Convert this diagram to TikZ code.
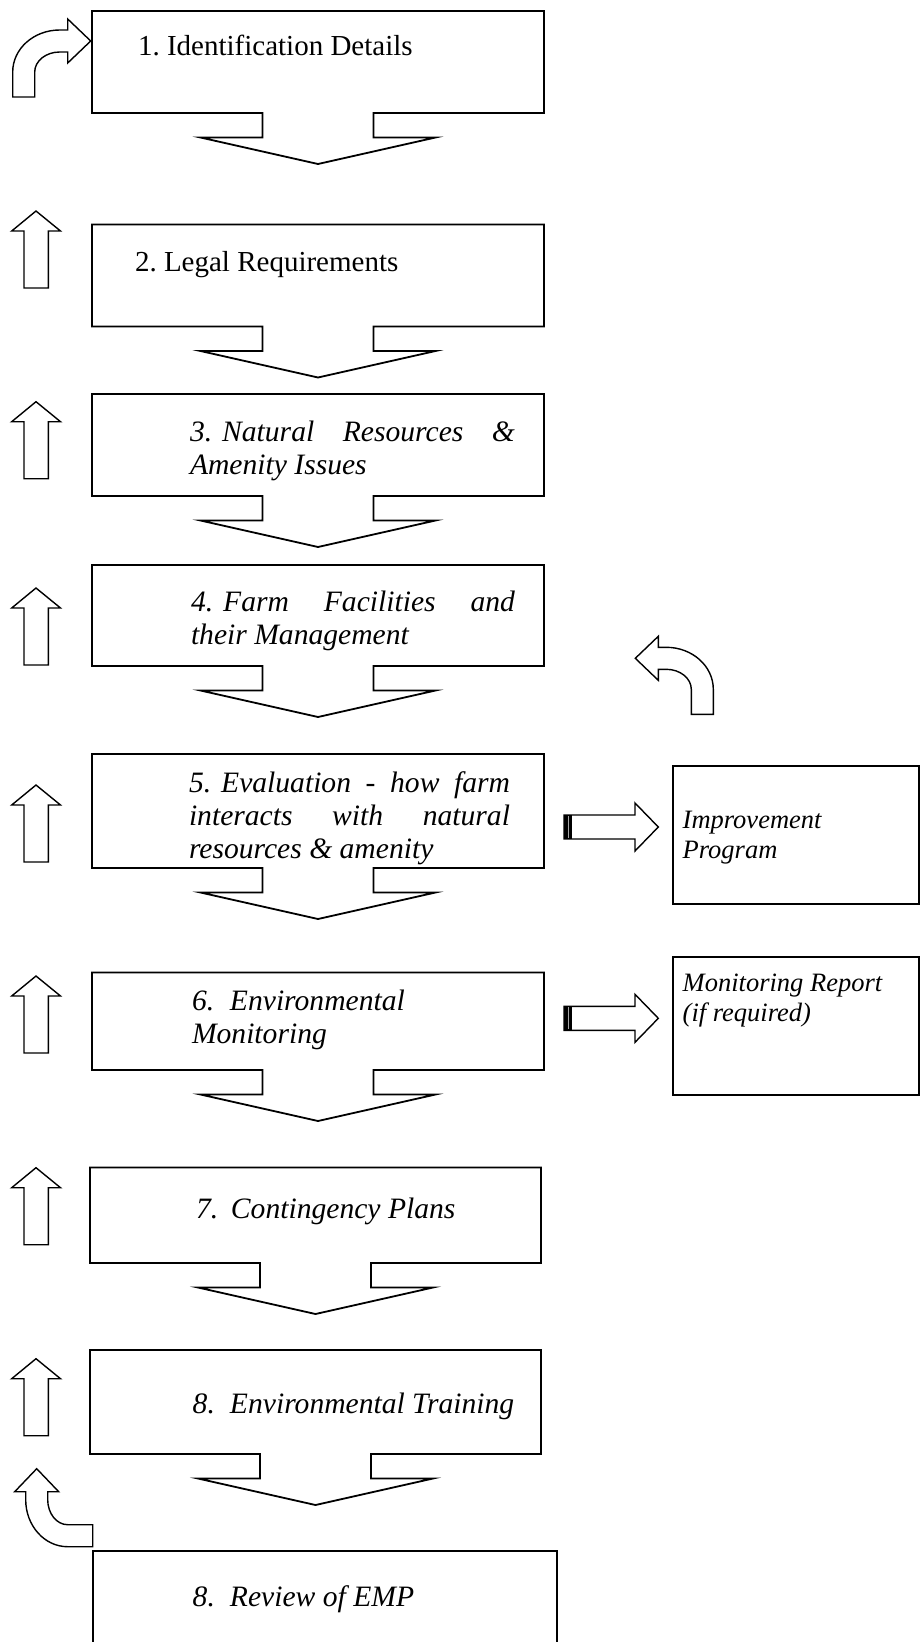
\documentclass[tikz,border=0pt]{standalone}
\usepackage{fontspec}
\setmainfont{Liberation Serif}
\usetikzlibrary{calc}
\frenchspacing
\newcommand\callout[1]{%
  \draw[cl] (#1.north west) -- (#1.north east) -- (#1.south east)
    -- ($(#1.south)+(55.5,0)$) -- ($(#1.south)+(55.5,24.5)$)
    -- ($(#1.south)+(117.5,24.5)$) -- ($(#1.south)+(0,51)$)
    -- ($(#1.south)+(-117.5,24.5)$) -- ($(#1.south)+(-55.5,24.5)$)
    -- ($(#1.south)+(-55.5,0)$) -- (#1.south west) -- cycle;}
\newcommand\numsp{\hspace*{10pt}}
\tikzset{
  cl/.style={line width=1.8pt, line join=miter},
  al/.style={line width=1.4pt, line join=miter},
  cbox/.style={inner sep=0pt, outer sep=0pt, minimum width=452pt},
  rbox/.style={draw, line width=1.8pt, inner sep=0pt, outer sep=0pt, anchor=north west},
  mtxt/.style={anchor=base west, inner sep=0pt, outer sep=0pt, font=\fontsize{29}{33.4}\selectfont},
  mit/.style={mtxt, font=\fontsize{29.6}{33.4}\selectfont\itshape},
  stxt/.style={anchor=base west, inner sep=0pt, outer sep=0pt, font=\fontsize{26.5}{30.5}\selectfont\itshape},
  uparr/.pic={\draw[al] (0,0) -- (24.5,20) -- (12.3,20) -- (12.3,77) -- (-12,77) -- (-12,20) -- (-24.3,20) -- cycle;},
  rarr/.pic={\draw[al] (0,-12) -- (71,-12) -- (71,-24) -- (94.3,0) -- (71,24) -- (71,12) -- (0,12) -- cycle;
     \fill[black] (0,-12) rectangle (8.3,12);
     \draw[gray!70, line width=1.2pt] (4.2,-11) -- (4.2,11);},
  bentarr/.pic={\draw[al] (0,0) -- (22,0) -- (22,-25) .. controls (22,-36) and (33.2,-45) .. (47,-45) -- (55,-45) -- (55,-34) -- (78,-56) -- (55,-78) -- (55,-67) -- (47,-67) .. controls (21,-67) and (0,-48.2) .. (0,-25) -- cycle;}
}
\begin{document}
\begin{tikzpicture}[x=1pt,y=-1pt]
\fill[white] (0,0) rectangle (920,1642);
\useasboundingbox (0,0) rectangle (920,1642);

% main callout boxes
\node[cbox, minimum height=102pt] (b1) at (318,62) {};
\callout{b1}
\node[cbox, minimum height=102pt] (b2) at (318,275.5) {};
\callout{b2}
\node[cbox, minimum height=102pt] (b3) at (318,445) {};
\callout{b3}
\node[cbox, minimum height=101pt] (b4) at (318,615.5) {};
\callout{b4}
\node[cbox, minimum height=114pt] (b5) at (318,811) {};
\callout{b5}
\node[cbox, minimum height=97.5pt] (b6) at (318,1021.25) {};
\callout{b6}
\node[cbox, minimum width=451pt, minimum height=95.5pt] (b7) at (315.5,1215.25) {};
\callout{b7}
\node[cbox, minimum width=451pt, minimum height=104pt] (b8) at (315.5,1402) {};
\callout{b8}
\node[rbox, minimum width=464pt, minimum height=120pt] (b9) at (92.7,1550.7) {};

% side boxes
\node[rbox, minimum width=246pt, minimum height=138.3pt] (imp) at (673,765.7) {};
\node[rbox, minimum width=245.7pt, minimum height=137.7pt] (mon) at (673.3,957.3) {};

% texts
\node[mtxt] (t1) at (138,55) {1. Identification Details};
\node[mtxt] (t2) at (135,271) {2. Legal Requirements};
\node[mit] (t3) at (190,441) {\parbox[t]{325pt}{3.\numsp Natural Resources \&\linebreak Amenity Issues}};
\node[mit] (t4) at (191,611) {\parbox[t]{324pt}{4.\numsp Farm Facilities and\linebreak their Management}};
\node[mit] (t5) at (189,792) {\parbox[t]{321pt}{5.\numsp Evaluation - how farm\linebreak interacts with natural\linebreak resources \& amenity}};
\node[mit] (t6) at (192,1010) {\parbox[t]{330pt}{\makebox[38pt][l]{6.}Environmental\\Monitoring}};
\node[mit] (t7) at (196,1218) {\makebox[35pt][l]{7.}Contingency Plans};
\node[mit] (t8) at (192.7,1413) {\makebox[37.3pt][l]{8.}Environmental Training};
\node[mit] (t9) at (192.7,1606.7) {\makebox[37.3pt][l]{8.}Review of EMP};
\node[stxt] (ti) at (682.7,828) {\parbox[t]{230pt}{Improvement\\Program}};
\node[stxt] (tm) at (682.7,991) {\parbox[t]{230pt}{Monitoring Report\\(if required)}};

% up arrows on the left
\pic at (36,211) {uparr};
\pic at (36,401.7) {uparr};
\pic at (36,588) {uparr};
\pic at (36,785) {uparr};
\pic at (36,976) {uparr};
\pic at (36,1167.7) {uparr};
\pic at (36,1358.7) {uparr};

% right block arrows
\pic at (564,827) {rarr};
\pic at (564,1018.3) {rarr};

% bent arrows
\pic at (12.7,97) {bentarr};
\pic[xscale=-1] at (713.3,714.3) {bentarr};
\pic[rotate=90] at (92.7,1546.7) {bentarr};
\end{tikzpicture}
\end{document}
